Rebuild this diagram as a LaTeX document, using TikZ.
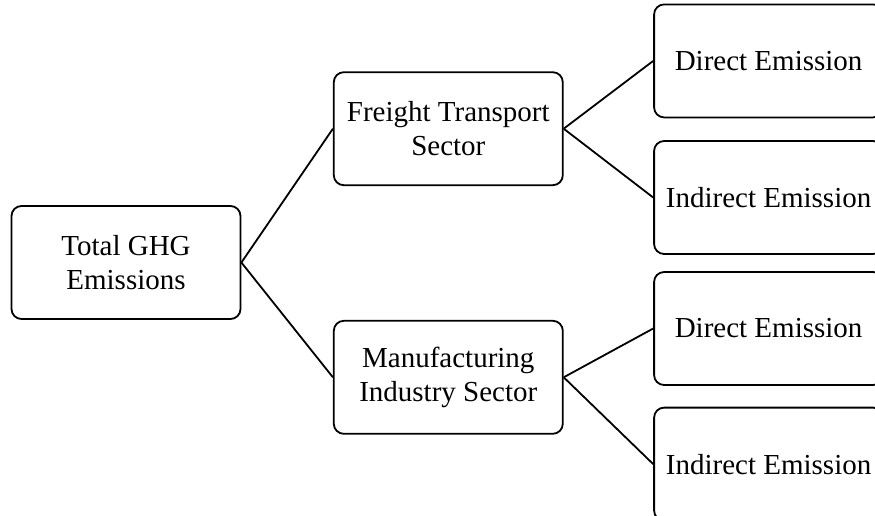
\documentclass[tikz,border=0pt]{standalone}
\usepackage{fontspec}
\setmainfont{Liberation Serif}
\usepackage{tikz}
\usetikzlibrary{positioning}
\tikzstyle{sectorbox} = [rectangle, rounded corners=10pt, minimum width=229pt, minimum height=113pt, inner sep=2pt, text centered, align=center, draw=black, line width=1.8pt, font=\fontsize{29}{34}\selectfont]
\tikzstyle{link} = [line width=1.8pt]

\begin{document}
\begin{tikzpicture}[x=1pt, y=1pt]
    \useasboundingbox (0,0) rectangle (875,-515);
    \clip (0,0) rectangle (875,-515);
    \node[sectorbox] (total) at (126,-262.5) {Total GHG\\Emissions};
    \node[sectorbox, above right=19pt and 91.5pt of total] (freight) {Freight Transport\\Sector};
    \node[sectorbox, below right=0pt and 91.5pt of total] (manuf) {Manufacturing\\Industry Sector};
    \node[sectorbox, above right=-47pt and 89.5pt of freight] (fdirect) {Direct Emission};
    \node[sectorbox, below right=-46pt and 89.5pt of freight] (findirect) {Indirect Emission};
    \node[sectorbox, above right=-66pt and 89.5pt of manuf] (mdirect) {Direct Emission};
    \node[sectorbox, below right=-28pt and 89.5pt of manuf] (mindirect) {Indirect Emission};

    \draw[link] (total.east) -- (freight.west);
    \draw[link] (total.east) -- (manuf.west);
    \draw[link] (freight.east) -- (fdirect.west);
    \draw[link] (freight.east) -- (findirect.west);
    \draw[link] (manuf.east) -- (mdirect.west);
    \draw[link] (manuf.east) -- (mindirect.west);
\end{tikzpicture}
\end{document}
